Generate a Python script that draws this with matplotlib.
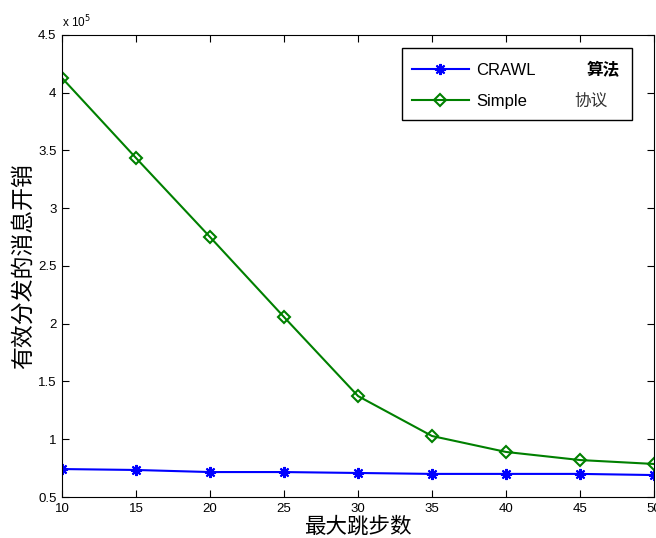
import matplotlib
matplotlib.use("Agg")
import matplotlib.pyplot as plt
from matplotlib.patches import Rectangle
from matplotlib.ticker import FuncFormatter

plt.rcParams["font.family"] = ["Liberation Sans", "Noto Sans CJK SC", "DejaVu Sans"]

hops = [10, 15, 20, 25, 30, 35, 40, 45, 50]
crawl = [74200, 73400, 71600, 71600, 70800, 70000, 70000, 70000, 69000]
simple = [412800, 343500, 275100, 205800, 137400, 102800, 89000, 82000, 78600]

fig = plt.figure(figsize=(6.56, 5.38), dpi=100)
ax = fig.add_axes([0.0945, 0.0762, 0.9025, 0.8588])

ax.plot(hops, crawl, color="#0000ff", marker=(8, 2, 0), markersize=8, markeredgewidth=1.5,
        linewidth=1.5, label="CRAWL")
ax.plot(hops, simple, color="#008000", marker="D", markersize=6.5, markerfacecolor="none",
        markeredgewidth=1.5, linewidth=1.5, label="Simple")

ax.set_xlim(10, 50)
ax.set_ylim(50000, 450000)
ax.set_xticks(hops)
ax.set_yticks([50000 * k for k in range(1, 10)])
ax.yaxis.set_major_formatter(FuncFormatter(lambda v, p: f"{v / 1e5:g}"))
ax.tick_params(direction="in", top=True, right=True, labelsize=9.5, length=5, pad=4)
ax.text(0.0, 1.01, r"x 10$^5$", transform=ax.transAxes, fontsize=8.5, ha="left", va="bottom")

ax.set_xlabel("最大跳步数", fontsize=15.5, family=["Noto Sans CJK SC"], labelpad=1)
ax.set_ylabel("有效分发的消息开销", fontsize=16.5, family=["Noto Sans CJK SC"], labelpad=2)

# legend frame, wide enough for the Chinese words on the right
box = Rectangle((0.574, 0.816), 0.389, 0.156, transform=ax.transAxes, facecolor="white",
                edgecolor="black", linewidth=1.0, zorder=5)
ax.add_patch(box)
leg = ax.legend(loc="upper left", bbox_to_anchor=(0.566, 0.972), fontsize=12,
                frameon=False, handlelength=3.4, handletextpad=0.45,
                borderpad=0.9, labelspacing=0.95, borderaxespad=0)
leg.set_zorder(6)

ax.text(0.943, 0.924, "算法", transform=ax.transAxes, fontsize=12, fontweight="bold",
        family=["Noto Sans CJK SC"], ha="right", va="center", zorder=7)
ax.text(0.922, 0.856, "协议", transform=ax.transAxes, fontsize=12, color="#333333",
        family=["Noto Sans CJK SC"], ha="right", va="center", zorder=7)

fig.savefig("out.png", dpi=100)
